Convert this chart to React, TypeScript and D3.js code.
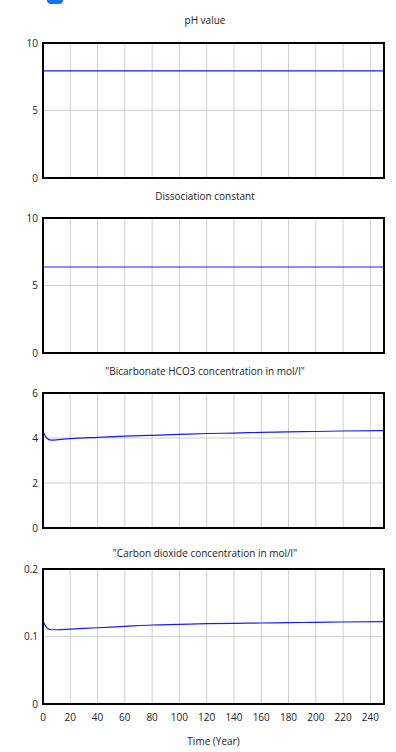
import React from 'react';
import * as d3 from 'd3';

const years = [0, 2, 4, 6, 8, 10, 20, 40, 60, 80, 100, 120, 140, 160, 180, 200, 220, 250];
const phValues = years.map(() => 7.93);
const dissociationValues = years.map(() => 6.37);
const bicarbonateValues = [4.3, 4.05, 3.94, 3.91, 3.91, 3.92, 3.97, 4.03, 4.08, 4.12, 4.16, 4.2, 4.22, 4.25, 4.27, 4.29, 4.31, 4.33];
const co2Values = [0.123, 0.115, 0.111, 0.11, 0.11, 0.11, 0.111, 0.113, 0.115, 0.117, 0.118, 0.119, 0.1195, 0.12, 0.1205, 0.121, 0.1215, 0.122];

const xTicks = [0, 20, 40, 60, 80, 100, 120, 140, 160, 180, 200, 220, 240];

const panels = [
  { title: 'pH value', values: phValues, max: 10, ticks: [0, 5, 10] },
  { title: 'Dissociation constant', values: dissociationValues, max: 10, ticks: [0, 5, 10] },
  { title: '"Bicarbonate HCO3 concentration in mol/l"', values: bicarbonateValues, max: 6, ticks: [0, 2, 4, 6] },
  { title: '"Carbon dioxide concentration in mol/l"', values: co2Values, max: 0.2, ticks: [0, 0.1, 0.2] },
];

const W = 396;
const H = 752;
const left = 43;
const right = 384;
const plotH = 135;
const tops = [43, 218, 393, 569];
const titleY = [24, 200, 375, 557];
const titleX = 205;
const font = '"Open Sans", sans-serif';

const x = d3.scaleLinear().domain([0, 250]).range([left, right]);

function Panel({ p, top, ty }: { p: typeof panels[number]; top: number; ty: number }) {
  const y = d3.scaleLinear().domain([0, p.max]).range([top + plotH, top]);
  const line = d3.line<number>()
    .x((_, i) => x(years[i]))
    .y(d => y(d))
    .curve(d3.curveMonotoneX);
  return (
    <g>
      <text x={titleX} y={ty} textAnchor="middle" fontSize={10} fill="#222">{p.title}</text>
      {xTicks.slice(1).map(t => (
        <line key={'x' + t} x1={x(t)} x2={x(t)} y1={top} y2={top + plotH} stroke="#cfcfcf" strokeWidth={1} />
      ))}
      {p.ticks.slice(1, -1).map(t => (
        <line key={'y' + t} x1={left} x2={right} y1={y(t)} y2={y(t)} stroke="#cfcfcf" strokeWidth={1} />
      ))}
      <path d={line(p.values) ?? ''} fill="none" stroke="#1a1aff" strokeWidth={1.2} />
      <rect x={left} y={top} width={right - left} height={plotH} fill="none" stroke="#000" strokeWidth={2} />
      {p.ticks.map(t => (
        <text key={'l' + t} x={left - 5} y={y(t) + 3.5} textAnchor="end" fontSize={10} fill="#222">{t}</text>
      ))}
    </g>
  );
}

export default function App() {
  const lastBottom = tops[3] + plotH;
  return (
    <svg width={W} height={H} style={{ position: 'absolute', left: 0, top: 0, background: '#fff' }} fontFamily={font}>
      <rect x={47} y={-8} width={16} height={12} rx={4} fill="#1a73e8" />
      {panels.map((p, i) => <Panel key={p.title} p={p} top={tops[i]} ty={titleY[i]} />)}
      {xTicks.map(t => (
        <text key={t} x={x(t)} y={lastBottom + 17} textAnchor="middle" fontSize={10} fill="#222">{t}</text>
      ))}
      <text x={(left + right) / 2} y={lastBottom + 41} textAnchor="middle" fontSize={10} fill="#222">Time (Year)</text>
    </svg>
  );
}
